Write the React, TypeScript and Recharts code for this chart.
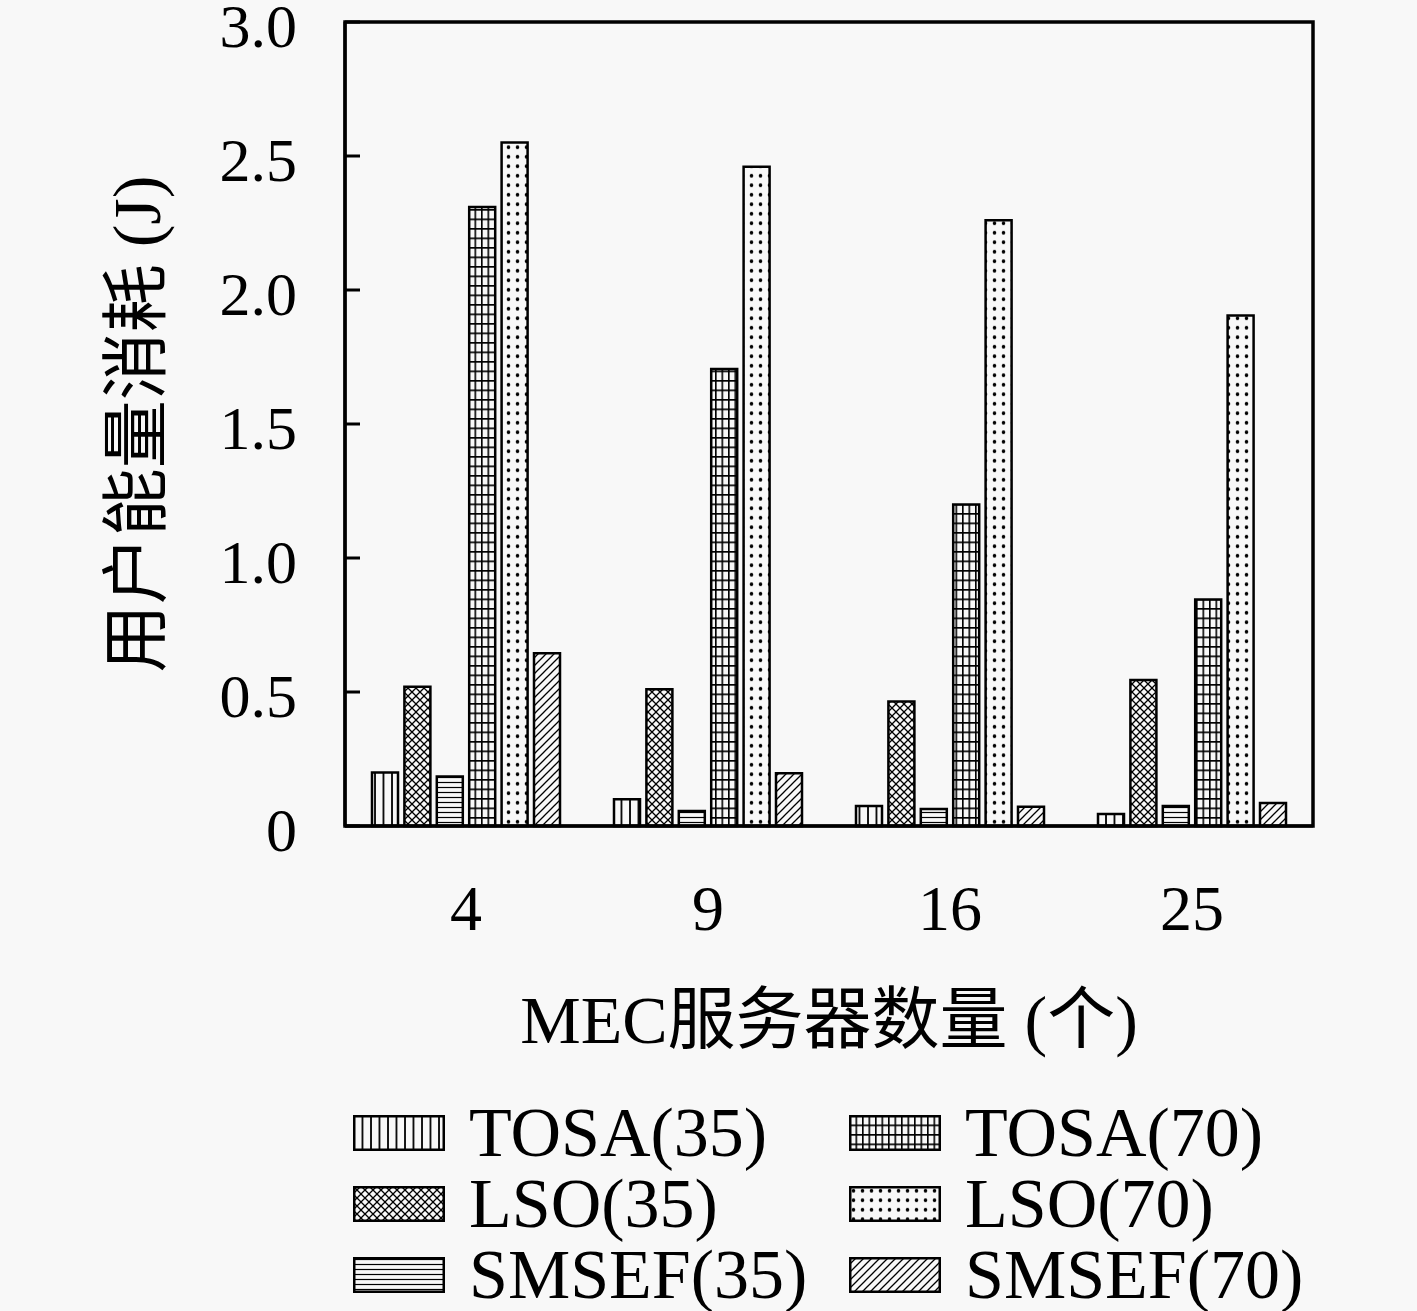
import { BarChart, Bar, XAxis, YAxis, Label, ReferenceArea } from "recharts";

const categories = ["4", "9", "16", "25"];
const tosa35 = [0.2, 0.1, 0.075, 0.045];
const lso35 = [0.52, 0.51, 0.465, 0.545];
const smsef35 = [0.185, 0.056, 0.063, 0.075];
const tosa70 = [2.31, 1.705, 1.2, 0.845];
const lso70 = [2.55, 2.46, 2.26, 1.905];
const smsef70 = [0.645, 0.197, 0.072, 0.086];
const yTicks = [0, 0.5, 1, 1.5, 2, 2.5, 3];

const series = [
  { key: "tosa35", label: "TOSA(35)", pattern: "p-vert" },
  { key: "lso35", label: "LSO(35)", pattern: "p-cross" },
  { key: "smsef35", label: "SMSEF(35)", pattern: "p-horiz" },
  { key: "tosa70", label: "TOSA(70)", pattern: "p-grid" },
  { key: "lso70", label: "LSO(70)", pattern: "p-dots" },
  { key: "smsef70", label: "SMSEF(70)", pattern: "p-diag" },
];

const rows = categories.map((cat, i) => ({
  cat,
  tosa35: tosa35[i],
  lso35: lso35[i],
  smsef35: smsef35[i],
  tosa70: tosa70[i],
  lso70: lso70[i],
  smsef70: smsef70[i],
}));

const FONT = '"Liberation Serif", "Noto Sans CJK SC", serif';
const BG = "#f8f8f8";

function Patterns() {
  return (
    <svg width={0} height={0} style={{ position: "absolute" }}>
      <defs>
        <pattern id="p-vert" patternUnits="userSpaceOnUse" width={8.5} height={10}>
          <line x1={1} y1={0} x2={1} y2={10} stroke="#000" strokeWidth={1.8} />
        </pattern>
        <pattern id="p-cross" patternUnits="userSpaceOnUse" width={8} height={8}>
          <path d="M0,0 L8,8 M8,0 L0,8" stroke="#000" strokeWidth={1.3} />
        </pattern>
        <pattern id="p-horiz" patternUnits="userSpaceOnUse" width={10} height={5}>
          <line x1={0} y1={2.5} x2={10} y2={2.5} stroke="#000" strokeWidth={1.2} />
        </pattern>
        <pattern id="p-grid" patternUnits="userSpaceOnUse" width={6.5} height={9.5}>
          <path d="M0.8,0 L0.8,9.5 M0,0.8 L6.5,0.8" stroke="#000" strokeWidth={1.6} />
        </pattern>
        <pattern id="p-dots" patternUnits="userSpaceOnUse" width={9} height={9.5}>
          <circle cx={4.5} cy={4.75} r={1.8} fill="#000" />
        </pattern>
        <pattern id="p-diag" patternUnits="userSpaceOnUse" width={8} height={8}>
          <path d="M0,8 L8,0 M-2,2 L2,-2 M6,10 L10,6" stroke="#000" strokeWidth={1.3} />
        </pattern>
      </defs>
    </svg>
  );
}

function YTitle(props: any) {
  const vb = props.viewBox || { y: 22, height: 804 };
  const cy = vb.y + vb.height / 2;
  return (
    <text
      x={137}
      y={cy}
      transform={`rotate(-90 137 ${cy})`}
      textAnchor="middle"
      dominantBaseline="central"
      fontSize={68}
      fontFamily={FONT}
      fill="#000"
    >
      用户能量消耗 (J)
    </text>
  );
}

function XTitle(props: any) {
  const vb = props.viewBox || { x: 345, width: 968, y: 826 };
  const cx = vb.x + vb.width / 2;
  return (
    <text x={cx} y={1020} textAnchor="middle" dominantBaseline="central" fontSize={68} fontFamily={FONT} fill="#000">
      MEC服务器数量 (个)
    </text>
  );
}

function LegendBlock() {
  const cols = [series.slice(0, 3), series.slice(3)];
  const lefts = [353, 849];
  return (
    <>
      {cols.map((col, c) =>
        col.map((s, r) => (
          <div
            key={s.key}
            style={{
              position: "absolute",
              left: lefts[c],
              top: 1097 + r * 71,
              height: 71,
              display: "flex",
              alignItems: "center",
              fontFamily: FONT,
              fontSize: 70,
              lineHeight: 1,
              whiteSpace: "nowrap",
            }}
          >
            <svg width={92} height={36} style={{ marginRight: 24, flex: "none" }}>
              <rect x={1.25} y={1.25} width={89.5} height={33.5} fill={`url(#${s.pattern})`} stroke="#000" strokeWidth={2.5} />
            </svg>
            <span>{s.label}</span>
          </div>
        ))
      )}
    </>
  );
}

export default function App() {
  return (
    <div style={{ position: "absolute", left: 0, top: 0, width: 1417, height: 1311, background: BG }}>
      <Patterns />
      <BarChart
        width={1417}
        height={1311}
        data={rows}
        margin={{ top: 22, right: 104, bottom: 405, left: 0 }}
        barSize={26}
        barGap={6.4}
      >
        <XAxis
          dataKey="cat"
          height={80}
          tickLine={false}
          tickSize={0}
          tickMargin={59}
          axisLine={{ stroke: "#000", strokeWidth: 3 }}
          tick={{ fontSize: 64, fill: "#000", fontFamily: FONT }}
        >
          <Label content={<XTitle />} />
        </XAxis>
        <YAxis
          width={345}
          domain={[0, 3]}
          ticks={yTicks}
          interval={0}
          tickSize={-15}
          tickMargin={63}
          tickFormatter={(v: number) => (v === 0 ? "0" : v.toFixed(1))}
          axisLine={{ stroke: "#000", strokeWidth: 3 }}
          tickLine={{ stroke: "#000", strokeWidth: 3 }}
          tick={{ fontSize: 62, fill: "#000", fontFamily: FONT, dy: 3 }}
        >
          <Label content={<YTitle />} />
        </YAxis>
        {series.map((s) => (
          <Bar
            key={s.key}
            dataKey={s.key}
            name={s.label}
            fill={`url(#${s.pattern})`}
            stroke="#000"
            strokeWidth={2.5}
            isAnimationActive={false}
          />
        ))}
        <ReferenceArea y1={0} y2={3} fill="none" fillOpacity={0} stroke="#000" strokeWidth={3.5} ifOverflow="visible" />
      </BarChart>
      <LegendBlock />
    </div>
  );
}
